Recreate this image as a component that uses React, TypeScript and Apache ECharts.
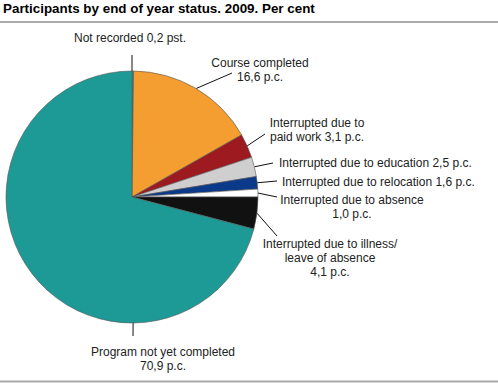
import React, { useEffect, useRef } from "react";
import * as echarts from "echarts";

const categories = [
  "Not recorded {v} pst.",
  "Course completed\n{v} p.c.",
  "Interrupted due to\npaid work {v} p.c.",
  "Interrupted due to education {v} p.c.",
  "Interrupted due to relocation {v} p.c.",
  "Interrupted due to absence\n{v} p.c.",
  "Interrupted due to illness/\nleave of absence\n{v} p.c.",
  "Program not yet completed\n{v} p.c.",
];
const values = [0.2, 16.6, 3.1, 2.5, 1.6, 1.0, 4.1, 70.9];
const colors = ["#1d9a96", "#f49d30", "#9d1a20", "#cfcfcf", "#0b3a8a", "#ffffff", "#111111", "#1d9a96"];

// label placement (layout only); anchorAngle overrides where the leader line leaves the pie
const labelPos: { x: number; y: number; align: string; lx: number; ly: number; anchorAngle?: number }[] = [
  { x: 130, y: 38, align: "center", lx: 132, ly: 55, anchorAngle: 90 },
  { x: 260, y: 70, align: "center", lx: 232, ly: 73 },
  { x: 317, y: 130, align: "center", lx: 265, ly: 134 },
  { x: 279, y: 163, align: "left", lx: 273, ly: 163 },
  { x: 282, y: 182, align: "left", lx: 277, ly: 181 },
  { x: 352, y: 207, align: "center", lx: 277, ly: 197 },
  { x: 330, y: 258, align: "center", lx: 277, ly: 236 },
  { x: 163, y: 359, align: "center", lx: 133, ly: 336, anchorAngle: -89.5 },
];

const CX = 132;
const CY = 197;
const R = 126;

export default function App() {
  const ref = useRef<HTMLDivElement>(null);
  useEffect(() => {
    if (!ref.current) return;
    const chart = echarts.init(ref.current, null, { renderer: "svg" });
    const total = values.reduce((a, b) => a + b, 0);
    const mids: number[] = [];
    let cum = 0;
    values.forEach((v) => {
      mids.push(90 - (360 * (cum + v / 2)) / total);
      cum += v;
    });
    const font = "'Liberation Sans', Arial, sans-serif";
    chart.setOption({
      animation: false,
      title: {
        text: "Participants by end of year status. 2009. Per cent",
        left: 3,
        top: 0,
        padding: 0,
        textStyle: { fontSize: 13.4, fontWeight: "bold", color: "#000", fontFamily: font, lineHeight: 16 },
      },
      graphic: [
        { type: "line", shape: { x1: 0, y1: 22, x2: 498, y2: 22 }, style: { stroke: "#aaaaaa", lineWidth: 2 } },
        { type: "line", shape: { x1: 0, y1: 381.5, x2: 498, y2: 381.5 }, style: { stroke: "#aaaaaa", lineWidth: 2 } },
      ],
      series: [
        {
          type: "pie",
          center: [CX, CY],
          radius: R,
          startAngle: 90,
          clockwise: true,
          minAngle: 0,
          avoidLabelOverlap: false,
          data: values.map((v, i) => ({
            name: categories[i],
            value: v,
            itemStyle: { color: colors[i] },
          })),
          itemStyle: { borderColor: "#555", borderWidth: 0.6 },
          label: {
            show: true,
            position: "outside",
            formatter: (p: any) => p.name.replace("{v}", Number(p.value).toFixed(1).replace(".", ",")),
            fontSize: 12,
            lineHeight: 14,
            color: "#222",
            fontFamily: font,
          },
          labelLine: { show: true, lineStyle: { color: "#111", width: 1 } },
          emphasis: { disabled: true },
          labelLayout: (params: any) => {
            const i = params.dataIndex;
            const lp = labelPos[i];
            const deg = lp.anchorAngle != null ? lp.anchorAngle : mids[i];
            const a = (deg * Math.PI) / 180;
            const sx = CX + R * Math.cos(a);
            const sy = CY - R * Math.sin(a);
            return {
              x: lp.x,
              y: lp.y,
              align: lp.align,
              verticalAlign: "middle",
              labelLinePoints: [
                [sx, sy],
                [lp.lx, lp.ly],
                [lp.lx, lp.ly],
              ],
            };
          },
        },
      ],
    });
    return () => chart.dispose();
  }, []);
  return (
    <div
      ref={ref}
      style={{ position: "absolute", left: 0, top: 0, width: 498, height: 383, background: "#fff" }}
    />
  );
}
